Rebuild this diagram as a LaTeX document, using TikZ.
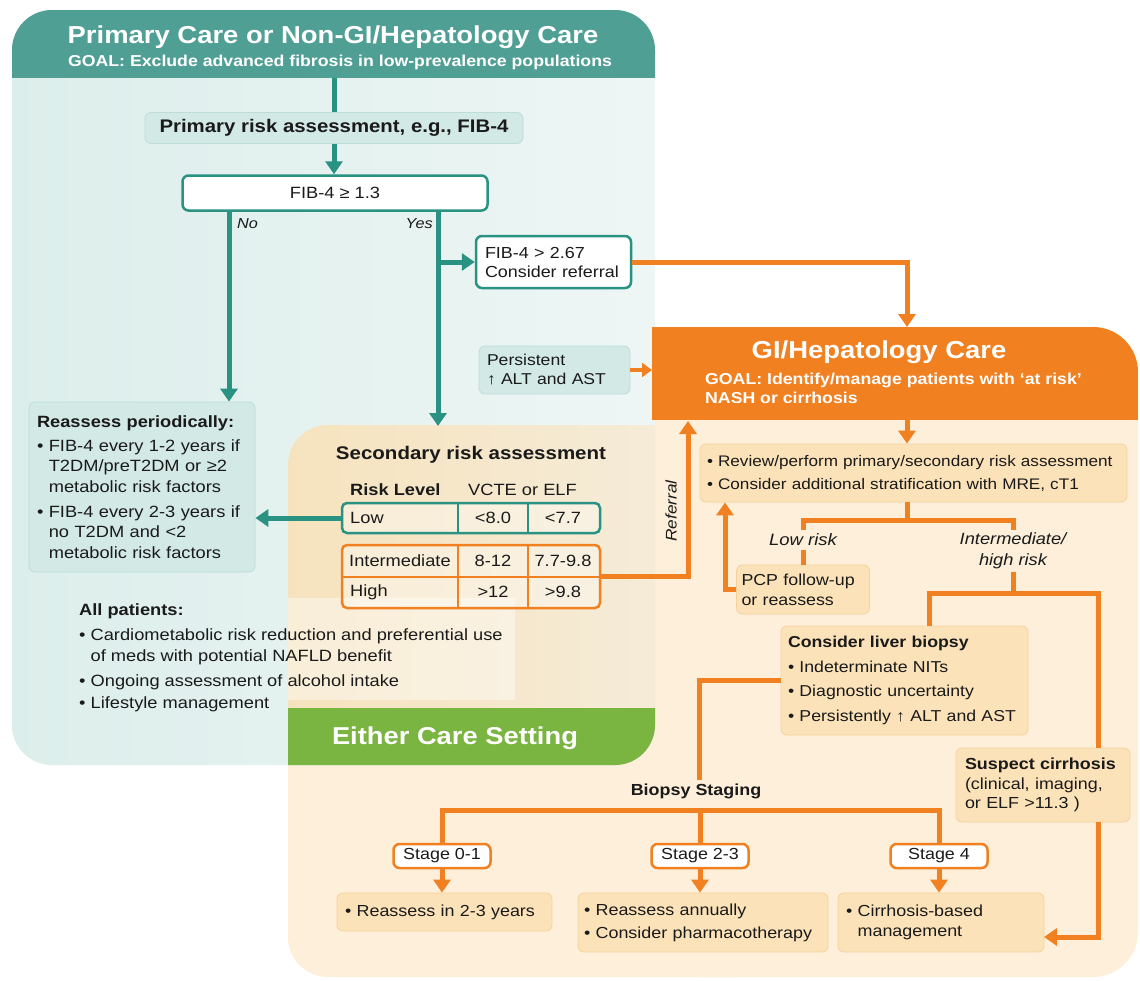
\documentclass[tikz,border=0pt]{standalone}
\usepackage{fontspec}
\setmainfont{Liberation Sans}[FakeStretch=1.12]
\usetikzlibrary{arrows.meta}
\newcommand{\fsz}[2]{\fontsize{#1}{#2}\selectfont}
\definecolor{tealhd}{HTML}{4F9F95}
\definecolor{tealln}{HTML}{2A9282}
\definecolor{tealpL}{HTML}{DCEEEB}
\definecolor{tealpR}{HTML}{EEF6F5}
\definecolor{tealbox}{HTML}{D2E9E6}
\definecolor{tealedge}{HTML}{BCDDD9}
\definecolor{orng}{HTML}{F18021}
\definecolor{beige}{HTML}{FDEFD9}
\definecolor{beigebox}{HTML}{FBE2B9}
\definecolor{beigeedge}{HTML}{F5D29C}
\definecolor{ovL}{HTML}{F6E3BE}
\definecolor{ovR}{HTML}{F5EEE0}
\definecolor{grn}{HTML}{7AB441}
\definecolor{ink}{HTML}{1A1A1A}
\tikzset{
  tline/.style={draw=tealln, line width=5pt},
  tarrow/.style={tline, -{Triangle[length=13pt,width=17pt]}},
  oline/.style={draw=orng, line width=5pt},
  oarrow/.style={oline, -{Triangle[length=13pt,width=17pt]}},
  osmall/.style={draw=orng, line width=4pt, -{Triangle[length=10pt,width=14pt]}},
  txt/.style={text=ink, font=\fsz{16}{20}},
  tbox/.style={txt, fill=tealbox, draw=tealedge, line width=0.8pt, rounded corners=6pt, align=left},
  obox/.style={txt, fill=beigebox, draw=beigeedge, line width=0.8pt, rounded corners=6pt, align=left},
  wbox/.style={txt, fill=white, line width=2.5pt, rounded corners=6pt},
  stagebox/.style={wbox, draw=orng, minimum width=97pt, minimum height=24pt, inner sep=0pt, font=\fsz{16}{19}},
  lab/.style={txt, font=\fsz{14.5}{18}\itshape},
  hdtitle/.style={text=white, font=\fsz{24.5}{28}\bfseries},
  hdgoal/.style={text=white, font=\fsz{15.8}{19}\bfseries},
  cell/.style={txt, inner sep=0pt, font=\fsz{16.3}{19}},
}
\begin{document}
\begin{tikzpicture}[x=1pt,y=-1pt]
\useasboundingbox (0,0) rectangle (1140,980);
\fill[white] (0,0) rectangle (1140,980);

% ---- GI / hepatology area and the shared lower panel ----
\fill[beige, rounded corners=40pt] (288,425) rectangle (780,977);
\fill[beige, rounded corners=45pt] (652,327) rectangle (1138,977);

% ---- primary care panel ----
\shade[left color=tealpL, right color=tealpR, rounded corners=40pt] (12,10) rectangle (655,765);
\begin{scope}
  \clip[rounded corners=40pt] (12,10) rectangle (655,765);
  \shade[left color=ovL, right color=ovR, rounded corners=40pt] (288,425) rectangle (780,977);
  \fill[white, opacity=0.4] (288,598) rectangle (515,700);
  \fill[tealhd] (0,0) rectangle (700,78);
  \fill[grn] (288,708) rectangle (700,780);
\end{scope}
\begin{scope}
  \clip[rounded corners=45pt] (600,327) rectangle (1138,977);
  \fill[orng] (652,327) rectangle (1138,420);
\end{scope}

% ---- headings ----
\node[hdtitle] (ptitle) at (333,37) {Primary Care or Non-GI/Hepatology Care};
\node[hdgoal] (pgoal) at (340,62) {GOAL: Exclude advanced fibrosis in low-prevalence populations};
\node[hdtitle] (gtitle) at (879,352) {GI/Hepatology Care};
\node[hdgoal, anchor=north west, inner sep=0pt, align=left] (ggoal) at (705,373)
  {GOAL: Identify/manage patients with ‘at risk’\\NASH or cirrhosis};
\node[text=white, font=\fsz{24.4}{28}\bfseries] (either) at (455,738) {Either Care Setting};

% ---- primary care flow ----
\coordinate (phead) at (334,78);
\node[tbox, font=\fsz{18.2}{21}\bfseries, minimum width=378pt, minimum height=31pt, inner sep=0pt, align=center] (pra) at (334,128) {Primary risk assessment, e.g., FIB-4};
\node[wbox, draw=tealln, minimum width=305pt, minimum height=35pt, inner sep=0pt, font=\fsz{16.3}{19}] (fib) at (335,193) {FIB-4 ≥ 1.3};
\node[wbox, draw=tealln, text width=137pt, inner xsep=9pt, minimum height=52pt, align=left, font=\fsz{16}{19}] (ref267) at (553.5,262) {FIB-4 > 2.67\\Consider referral};
\node[tbox, text width=135pt, inner xsep=8pt, minimum height=48pt, font=\fsz{15.7}{19}] (persist) at (554.5,370) {Persistent\\↑ ALT and AST};
\node[tbox, text width=210pt, inner xsep=8pt, minimum height=170pt, font=\fsz{16.3}{20.5}] (reass) at (142,487)
  {\textbf{Reassess periodically:}\\[3.5pt]
   • FIB-4 every 1-2 years if\\ \phantom{• }T2DM/preT2DM or ≥2\\ \phantom{• }metabolic risk factors\\[4.5pt]
   • FIB-4 every 2-3 years if\\ \phantom{• }no T2DM and <2\\ \phantom{• }metabolic risk factors};

\node[lab, anchor=west, inner sep=0pt] (lno) at (237,224) {No};
\node[lab, anchor=east, inner sep=0pt] (lyes) at (433,224) {Yes};

\coordinate (nox) at (229,0);
\coordinate (yesx) at (438,0);
\coordinate (sectop) at (438,426);
\draw[tline] (phead) -- (pra.north);
\draw[tarrow] (pra.south) -- (pra.south |- fib.north);
\draw[tarrow] (fib.south -| nox) -- (reass.north -| nox);
\draw[tarrow] (fib.south -| yesx) -- (sectop);
\draw[tarrow] (ref267.west -| yesx) -- (ref267.west);

% ---- secondary risk assessment ----
\node[txt, font=\fsz{18.3}{21}\bfseries] (sec) at (471,455) {Secondary risk assessment};
\node[txt, font=\fsz{16.3}{20}\bfseries, anchor=west, inner sep=0pt] (hrisk) at (350,490) {Risk Level};
\node[txt, font=\fsz{16.3}{20}, anchor=west, inner sep=0pt] (hvcte) at (468,490) {VCTE or ELF};
\node[draw=tealln, line width=2.5pt, rounded corners=5pt, fill=white, fill opacity=0.35, minimum width=258pt, minimum height=30pt, inner sep=0pt] (lowrow) at (471,518) {};
\node[draw=orng, line width=2.5pt, rounded corners=5pt, fill=white, fill opacity=0.35, minimum width=258pt, minimum height=63pt, inner sep=0pt] (ihrow) at (471,576.5) {};
\coordinate (cA) at (458,0);
\coordinate (cB) at (528,0);
\draw[draw=tealln, line width=2pt] (lowrow.north -| cA) -- (lowrow.south -| cA) (lowrow.north -| cB) -- (lowrow.south -| cB);
\draw[draw=orng, line width=2pt] (ihrow.north -| cA) -- (ihrow.south -| cA) (ihrow.north -| cB) -- (ihrow.south -| cB) (ihrow.west) -- (ihrow.east);
\node[cell, anchor=west] (vlow) at (350,518) {Low};
\node[cell] (vlow1) at (493,518) {<8.0};
\node[cell] (vlow2) at (563,518) {<7.7};
\node[cell, anchor=west] (vint) at (349,561) {Intermediate};
\node[cell] (vint1) at (493,561) {8-12};
\node[cell] (vint2) at (563,561) {7.7-9.8};
\node[cell, anchor=west] (vhigh) at (350,592) {High};
\node[cell] (vhigh1) at (493,592) {>12};
\node[cell] (vhigh2) at (563,592) {>9.8};
\draw[tarrow] (lowrow.west) -- (lowrow.west -| reass.east);

\node[txt, anchor=north west, inner sep=0pt, align=left, font=\fsz{16.3}{20.5}] (allp) at (79,603)
  {\textbf{All patients:}\\[5pt]
   • Cardiometabolic risk reduction and preferential use\\ \phantom{• }of meds with potential NAFLD benefit\\[4.5pt]
   • Ongoing assessment of alcohol intake\\[1.5pt]
   • Lifestyle management};

% ---- links into GI/hepatology care ----
\coordinate (gitop) at (907,327);
\coordinate (gileft) at (652,370);
\coordinate (refin) at (688,421);
\draw[oarrow] (ref267.east) -| (gitop);
\draw[osmall] (persist.east) -- (gileft);
\draw[oarrow] (ihrow.east) -| (refin);
\node[lab, rotate=90, font=\fsz{15.4}{18}\itshape] (lref) at (671,511) {Referral};

% ---- GI/hepatology flow ----
\node[obox, text width=413pt, inner xsep=7pt, minimum height=58pt, font=\fsz{15.3}{20}] (review) at (913.5,473)
  {• Review/perform primary/secondary risk assessment\\[3pt] • Consider additional stratification with MRE, cT1};
\coordinate (gibase) at (907,420);
\draw[oarrow] (gibase) -- (gibase |- review.north);

\node[lab, font=\fsz{16.5}{20}\itshape] (lowrisk) at (803,540) {Low risk};
\node[lab, align=center, font=\fsz{16.3}{20.5}\itshape] (hilab) at (1013,551) {Intermediate/\\high risk};
\node[obox, text width=123pt, inner xsep=5pt, minimum height=49pt, font=\fsz{15.9}{20}] (pcp) at (803,589.5) {PCP follow-up\\or reassess};
\node[obox, text width=233pt, inner xsep=7pt, minimum height=109pt, font=\fsz{15.8}{20}] (liver) at (904.5,680.5)
  {\textbf{Consider liver biopsy}\\[4.5pt] • Indeterminate NITs\\[4.5pt] • Diagnostic uncertainty\\[4.5pt] • Persistently ↑ ALT and AST};
\node[obox, text width=156pt, inner xsep=9pt, minimum height=74pt, font=\fsz{16}{19.5}] (suspect) at (1043,785)
  {\textbf{Suspect cirrhosis}\\(clinical, imaging,\\or ELF >11.3 )};

\coordinate (rvstem) at (907,520);
\coordinate (hix) at (1013,520);
\coordinate (retx) at (725,0);
\coordinate (lvx) at (929,593);
\coordinate (susx) at (1098,593);
\draw[oline] (review.south -| rvstem) -- (rvstem);
\draw[oline] (lowrisk.north) |- (hix) -- (hilab.north);
\draw[oline] (lowrisk.south) -- (lowrisk.south |- pcp.north);
\draw[oarrow] (pcp.west) -| (review.south -| retx);
\draw[oline] (hilab.south) -- (hilab.south |- lvx);
\draw[oline] (liver.north -| lvx) -- (lvx) -- (susx) -- (suspect.north -| susx);

% ---- biopsy staging ----
\node[txt, font=\fsz{16}{20}\bfseries] (bstage) at (696,791) {Biopsy Staging};
\draw[oline] (liver.west) -| (bstage.north -| 699,0);
\node[stagebox] (s01) at (442,856) {Stage 0-1};
\node[stagebox] (s23) at (700,856) {Stage 2-3};
\node[stagebox] (s4) at (939,856) {Stage 4};
\coordinate (bar) at (700,810);
\draw[oline] (s01.north) |- (bar) -| (s4.north);
\draw[oline] (bar) -- (s23.north);

\node[obox, text width=199pt, inner xsep=8pt, minimum height=38pt, font=\fsz{16}{20}] (r1) at (444.5,912) {• Reassess in 2-3 years};
\node[obox, text width=238pt, inner xsep=6pt, minimum height=59pt, font=\fsz{16}{20}] (r2) at (703,922.5) {• Reassess annually\\[3pt] • Consider pharmacotherapy};
\node[obox, text width=190pt, inner xsep=8pt, minimum height=59pt, font=\fsz{16}{20}] (r3) at (941,922.5) {• Cirrhosis-based\\ \phantom{• }management};
\draw[oarrow] (s01.south) -- (s01.south |- r1.north);
\draw[oarrow] (s23.south) -- (s23.south |- r2.north);
\draw[oarrow] (s4.south) -- (s4.south |- r3.north);
\coordinate (cirin) at (1044,937);
\draw[oarrow] (suspect.south -| susx) |- (cirin);
\end{tikzpicture}
\end{document}
